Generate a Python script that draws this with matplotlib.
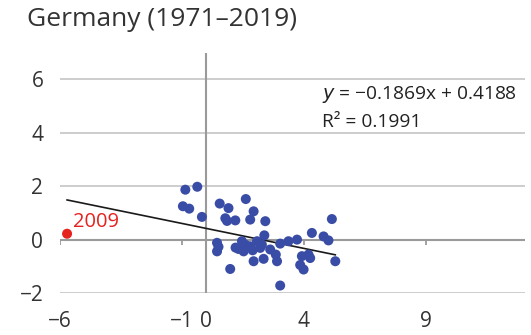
import matplotlib
matplotlib.use("Agg")
import matplotlib.pyplot as plt
import numpy as np

# GDP growth (x) vs change in unemployment (y), Germany 1971-2019 (excluding 2009)
gdp_growth = [-0.86, -0.37, -0.96, -0.70, -0.18, 0.55, 0.91, 1.62, 0.78, 0.85,
              1.19, 1.80, 1.94, 2.42, 2.38, 4.33, 4.81, 5.01, 5.15, 5.29,
              3.72, 3.37, 3.03, 2.90, 2.85, 3.03, 3.92, 3.85, 3.99, 4.19,
              4.26, 0.98, 0.44, 0.50, 0.44, 1.32, 1.46, 1.60, 1.53, 1.94,
              2.21, 2.35, 2.62, 1.80, 2.08, 2.28, 1.90, 1.20]
unemp_change = [1.87, 1.98, 1.25, 1.16, 0.85, 1.35, 1.18, 1.52, 0.80, 0.70,
                0.72, 0.75, 1.06, 0.69, 0.16, 0.25, 0.12, -0.03, 0.77, -0.81,
                0.00, -0.06, -0.15, -0.81, -0.56, -1.72, -0.62, -0.95, -1.12, -0.56,
                -0.69, -1.10, -0.12, -0.27, -0.44, -0.35, -0.06, -0.19, -0.44, -0.81,
                -0.31, -0.72, -0.37, -0.25, -0.06, -0.19, -0.40, -0.30]
# Outlier year
outlier_year = "2009"
outlier_x = [-5.71]
outlier_y = [0.22]

# Trend line reported on the chart
slope = -0.1869
intercept = 0.4188
r2 = 0.1991

title = "Germany (1971\u20132019)"
xticks = [-6, -1, 0, 4, 9]
yticks = [-2, 0, 2, 4, 6]

W, H = 531, 335
fig = plt.figure(figsize=(W / 100, H / 100), dpi=100)
ax = fig.add_axes([60 / W, 1 - 293 / H, (525 - 60) / W, (293 - 52.75) / H])

ax.set_xlim(-6, 13.07)
ax.set_ylim(-2, 7)
for s in ax.spines.values():
    s.set_visible(False)

# horizontal gridlines
for yv in yticks:
    if yv == 0:
        continue
    ax.axhline(yv, color="#c9c9c9", lw=1.3, zorder=0)
# axis lines through origin
ax.axhline(0, color="#9a9a9a", lw=1.5, zorder=1)
ax.axvline(0, color="#9a9a9a", lw=1.5, zorder=1)
# tick marks on horizontal axis line
tick_marks = [t for t in xticks if t != 0]
ax.vlines(tick_marks, -0.2, 0, color="#9a9a9a", lw=1.3, zorder=1)

# trend line over data range
all_x = np.array(gdp_growth + outlier_x)
xl = np.array([all_x.min(), all_x.max()])
ax.plot(xl, slope * xl + intercept, color="#1a1a1a", lw=1.2, zorder=2)

ax.scatter(gdp_growth, unemp_change, s=52, color="#3a4da6", edgecolors="none", zorder=3)
ax.scatter(outlier_x, outlier_y, s=52, color="#e5221e", edgecolors="none", zorder=3)
ax.annotate(outlier_year, (outlier_x[0], outlier_y[0]), xytext=(4, 1),
            textcoords="offset points", color="#e5221e", fontsize=14.5,
            family="Open Sans", va="bottom", ha="left")

ax.set_xticks(xticks)
ax.set_yticks(yticks)
ax.set_xticklabels([str(t).replace("-", "\u2212") for t in xticks])
ax.set_yticklabels([str(t).replace("-", "\u2212") for t in yticks])
ax.tick_params(axis="both", length=0, labelsize=15, labelcolor="#333333")
ax.tick_params(axis="x", pad=13)
ax.tick_params(axis="y", pad=12)
for lab in ax.get_xticklabels() + ax.get_yticklabels():
    lab.set_family("Open Sans")

eq = f"$y$ = \u2212{abs(slope):.4f}x + {intercept:.4f}"
ax.text(322 / W, 1 - 95 / H, eq,
        transform=fig.transFigure, fontsize=13.8, family="Open Sans",
        color="#222222", va="center", ha="left")
ax.text(322 / W, 1 - 122 / H, f"R\u00b2 = {r2:.4f}", transform=fig.transFigure,
        fontsize=13.8, family="Open Sans", color="#222222", va="center", ha="left")

fig.text(27 / W, 1 - 20 / H, title, fontsize=19, family="Open Sans",
         color="#333333", va="center", ha="left")

fig.savefig("out.png", dpi=100)
